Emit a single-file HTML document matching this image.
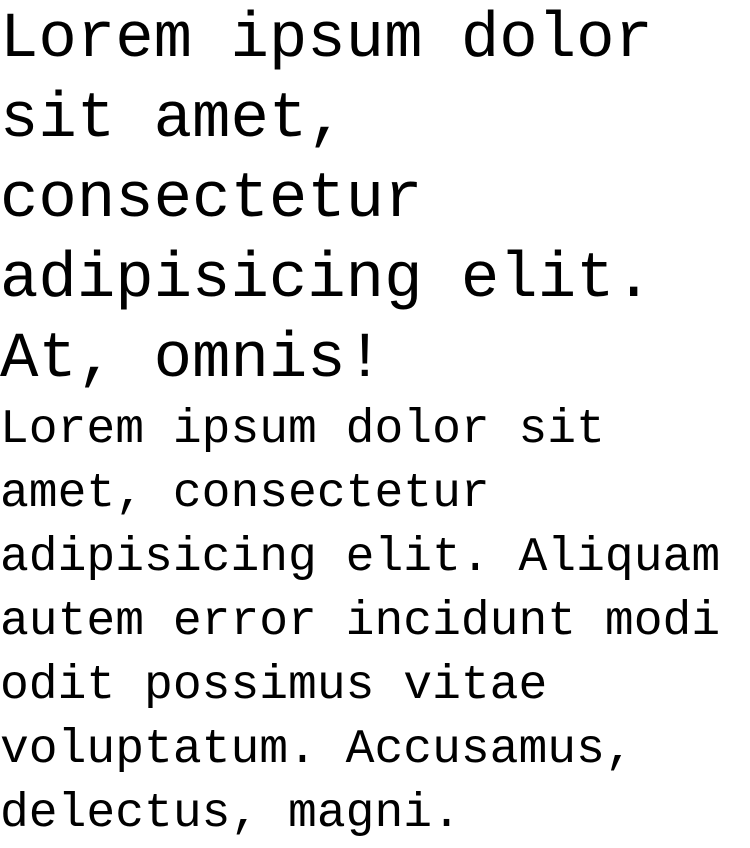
<!DOCTYPE html>
<html>
<head>
<meta charset="utf-8">
<style>
html,body{margin:0;padding:0;background:#fff;}
body{width:750px;height:848px;overflow:hidden;font-family:"Liberation Mono",monospace;color:#000;}
.big{font-size:64px;line-height:80px;margin:0;font-weight:normal;}
.small{font-size:48px;line-height:64px;margin:-2px 0 0 0;}
</style>
</head>
<body>
<div class="big">Lorem ipsum dolor sit amet, consectetur adipisicing elit. At, omnis!</div>
<div class="small">Lorem ipsum dolor sit amet, consectetur adipisicing elit. Aliquam autem error incidunt modi odit possimus vitae voluptatum. Accusamus, delectus, magni.</div>
</body>
</html>
